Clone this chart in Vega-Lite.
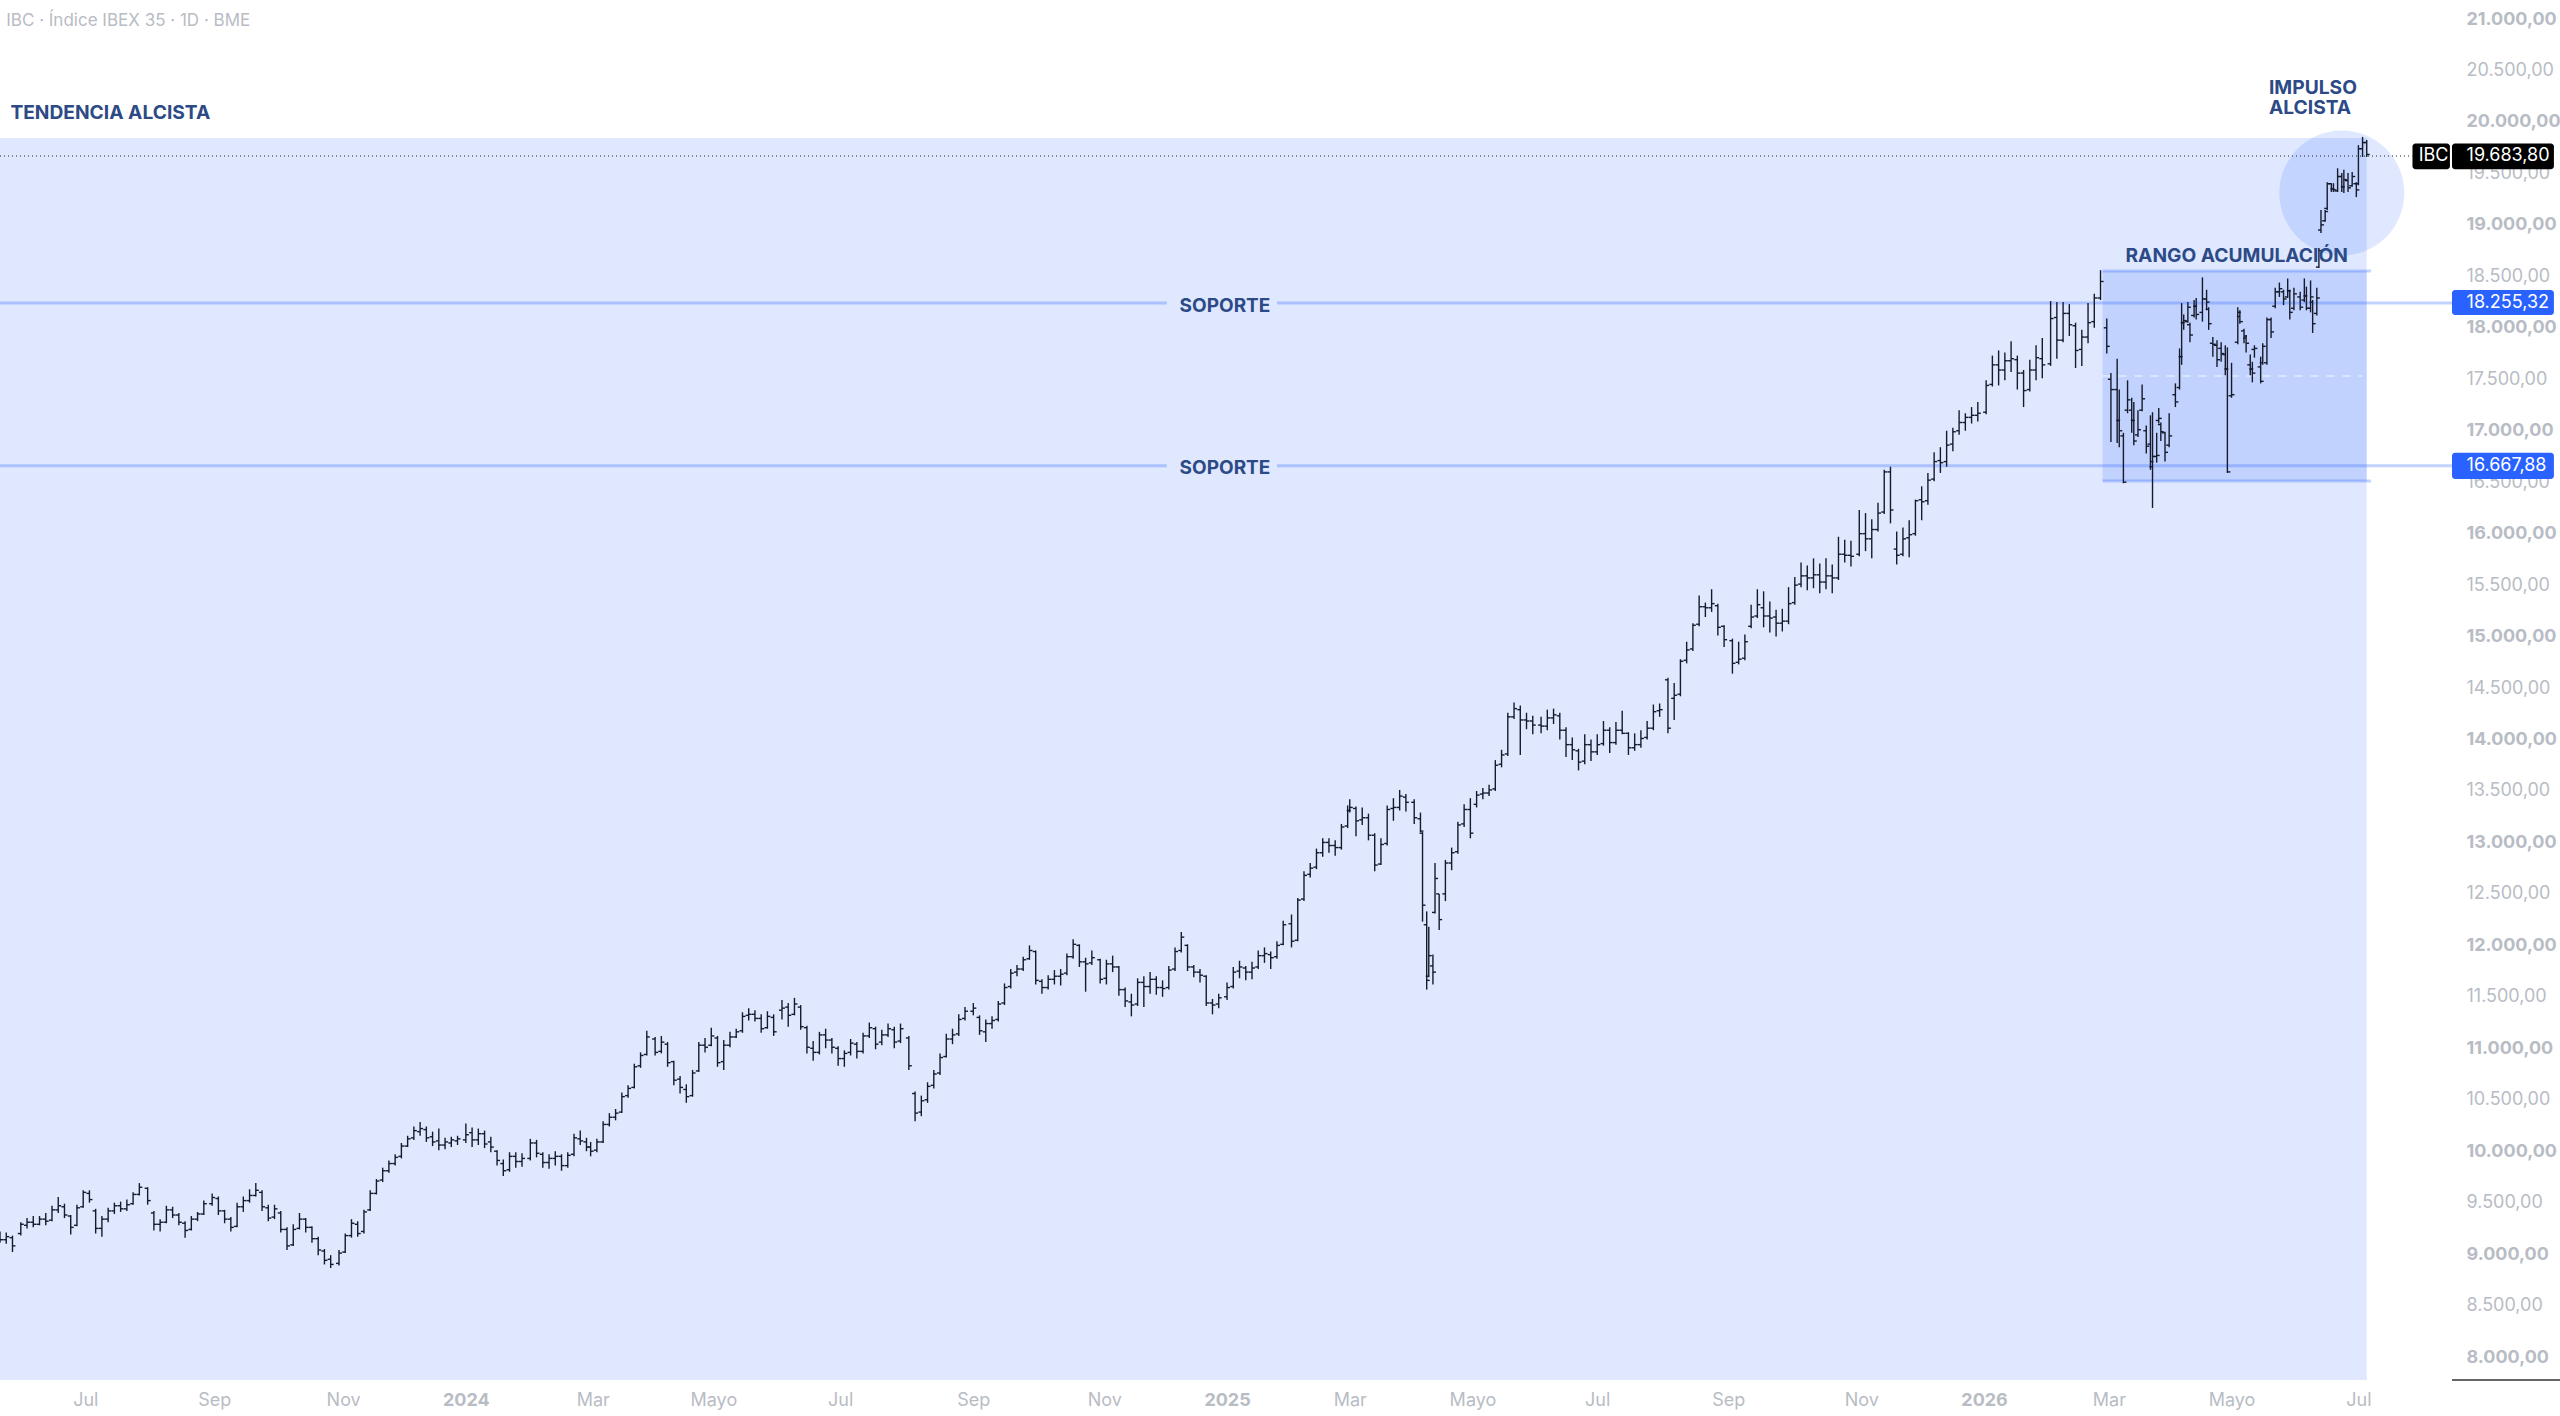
{
  "$schema": "https://vega.github.io/schema/vega-lite/v6.json",
  "width": 2452,
  "height": 1380,
  "autosize": {"type": "none"},
  "padding": {"left": 0, "top": 0, "right": 108, "bottom": 36},
  "background": "#ffffff",
  "config": {"view": {"stroke": null}, "font": "Inter"},
  "datasets": {
    "bars": [
      {"t":"2023-05-22","o":9180,"h":9220,"l":9110,"c":9140},
      {"t":"2023-05-25","o":9140,"h":9210,"l":9100,"c":9170},
      {"t":"2023-05-28","o":9160,"h":9180,"l":9020,"c":9080},
      {"t":"2023-06-01","o":9200,"h":9310,"l":9180,"c":9290},
      {"t":"2023-06-04","o":9280,"h":9350,"l":9250,"c":9310},
      {"t":"2023-06-07","o":9310,"h":9370,"l":9260,"c":9290},
      {"t":"2023-06-10","o":9290,"h":9370,"l":9280,"c":9340},
      {"t":"2023-06-13","o":9340,"h":9400,"l":9280,"c":9320},
      {"t":"2023-06-16","o":9330,"h":9470,"l":9320,"c":9430},
      {"t":"2023-06-19","o":9430,"h":9555,"l":9400,"c":9470},
      {"t":"2023-06-22","o":9460,"h":9490,"l":9350,"c":9380},
      {"t":"2023-06-25","o":9370,"h":9380,"l":9190,"c":9260},
      {"t":"2023-06-28","o":9280,"h":9480,"l":9270,"c":9450},
      {"t":"2023-07-01","o":9460,"h":9620,"l":9450,"c":9600},
      {"t":"2023-07-04","o":9590,"h":9620,"l":9500,"c":9530},
      {"t":"2023-07-07","o":9420,"h":9440,"l":9200,"c":9250},
      {"t":"2023-07-10","o":9250,"h":9370,"l":9170,"c":9340},
      {"t":"2023-07-13","o":9340,"h":9450,"l":9310,"c":9420},
      {"t":"2023-07-16","o":9420,"h":9500,"l":9390,"c":9470},
      {"t":"2023-07-19","o":9470,"h":9510,"l":9410,"c":9440},
      {"t":"2023-07-22","o":9440,"h":9530,"l":9420,"c":9480},
      {"t":"2023-07-25","o":9490,"h":9600,"l":9480,"c":9580},
      {"t":"2023-07-28","o":9580,"h":9690,"l":9570,"c":9650},
      {"t":"2023-08-01","o":9640,"h":9650,"l":9480,"c":9520},
      {"t":"2023-08-04","o":9400,"h":9420,"l":9230,"c":9290},
      {"t":"2023-08-07","o":9290,"h":9340,"l":9220,"c":9310},
      {"t":"2023-08-10","o":9310,"h":9470,"l":9300,"c":9430},
      {"t":"2023-08-13","o":9430,"h":9460,"l":9350,"c":9380},
      {"t":"2023-08-16","o":9380,"h":9400,"l":9280,"c":9310},
      {"t":"2023-08-19","o":9300,"h":9320,"l":9160,"c":9230},
      {"t":"2023-08-22","o":9240,"h":9370,"l":9230,"c":9340},
      {"t":"2023-08-25","o":9340,"h":9410,"l":9320,"c":9390},
      {"t":"2023-08-28","o":9390,"h":9520,"l":9380,"c":9490},
      {"t":"2023-09-01","o":9490,"h":9590,"l":9470,"c":9550},
      {"t":"2023-09-04","o":9540,"h":9560,"l":9380,"c":9420},
      {"t":"2023-09-07","o":9420,"h":9430,"l":9300,"c":9340},
      {"t":"2023-09-10","o":9340,"h":9360,"l":9220,"c":9260},
      {"t":"2023-09-13","o":9270,"h":9500,"l":9260,"c":9460},
      {"t":"2023-09-16","o":9460,"h":9560,"l":9410,"c":9520},
      {"t":"2023-09-19","o":9520,"h":9630,"l":9500,"c":9570},
      {"t":"2023-09-22","o":9570,"h":9690,"l":9560,"c":9620},
      {"t":"2023-09-25","o":9600,"h":9620,"l":9420,"c":9460},
      {"t":"2023-09-28","o":9450,"h":9480,"l":9320,"c":9350},
      {"t":"2023-10-01","o":9360,"h":9480,"l":9340,"c":9440},
      {"t":"2023-10-04","o":9400,"h":9420,"l":9210,"c":9240},
      {"t":"2023-10-07","o":9240,"h":9260,"l":9040,"c":9080},
      {"t":"2023-10-10","o":9090,"h":9290,"l":9080,"c":9240},
      {"t":"2023-10-13","o":9250,"h":9400,"l":9240,"c":9340},
      {"t":"2023-10-16","o":9340,"h":9350,"l":9210,"c":9260},
      {"t":"2023-10-19","o":9260,"h":9270,"l":9110,"c":9150},
      {"t":"2023-10-22","o":9150,"h":9170,"l":8990,"c":9040},
      {"t":"2023-10-25","o":9030,"h":9050,"l":8900,"c":8940},
      {"t":"2023-10-28","o":8950,"h":8990,"l":8865,"c":8900},
      {"t":"2023-11-01","o":8910,"h":9040,"l":8890,"c":9010},
      {"t":"2023-11-04","o":9020,"h":9200,"l":9010,"c":9180},
      {"t":"2023-11-07","o":9180,"h":9340,"l":9160,"c":9300},
      {"t":"2023-11-10","o":9290,"h":9320,"l":9170,"c":9200},
      {"t":"2023-11-13","o":9220,"h":9430,"l":9200,"c":9410},
      {"t":"2023-11-16","o":9430,"h":9620,"l":9420,"c":9590},
      {"t":"2023-11-19","o":9590,"h":9730,"l":9580,"c":9710},
      {"t":"2023-11-22","o":9720,"h":9840,"l":9700,"c":9810},
      {"t":"2023-11-25","o":9810,"h":9910,"l":9790,"c":9880},
      {"t":"2023-11-28","o":9880,"h":9970,"l":9860,"c":9940},
      {"t":"2023-12-01","o":9950,"h":10080,"l":9930,"c":10050},
      {"t":"2023-12-04","o":10050,"h":10150,"l":10040,"c":10120},
      {"t":"2023-12-07","o":10130,"h":10240,"l":10110,"c":10200},
      {"t":"2023-12-10","o":10190,"h":10283,"l":10150,"c":10220},
      {"t":"2023-12-13","o":10210,"h":10240,"l":10090,"c":10130},
      {"t":"2023-12-16","o":10140,"h":10190,"l":10050,"c":10090},
      {"t":"2023-12-19","o":10100,"h":10220,"l":10010,"c":10060},
      {"t":"2023-12-22","o":10060,"h":10130,"l":10020,"c":10090},
      {"t":"2023-12-25","o":10080,"h":10140,"l":10040,"c":10110},
      {"t":"2023-12-28","o":10100,"h":10150,"l":10060,"c":10120},
      {"t":"2024-01-01","o":10110,"h":10270,"l":10080,"c":10160},
      {"t":"2024-01-04","o":10180,"h":10230,"l":10040,"c":10110},
      {"t":"2024-01-07","o":10110,"h":10220,"l":10060,"c":10170},
      {"t":"2024-01-10","o":10170,"h":10200,"l":10030,"c":10070},
      {"t":"2024-01-13","o":10090,"h":10140,"l":9990,"c":10040},
      {"t":"2024-01-16","o":10000,"h":10010,"l":9860,"c":9910},
      {"t":"2024-01-19","o":9880,"h":9920,"l":9760,"c":9810},
      {"t":"2024-01-22","o":9820,"h":9990,"l":9800,"c":9950},
      {"t":"2024-01-25","o":9950,"h":9990,"l":9840,"c":9900},
      {"t":"2024-01-28","o":9900,"h":9980,"l":9850,"c":9930},
      {"t":"2024-02-01","o":9930,"h":10120,"l":9910,"c":10080},
      {"t":"2024-02-04","o":10080,"h":10110,"l":9940,"c":9980},
      {"t":"2024-02-07","o":9970,"h":9990,"l":9840,"c":9890},
      {"t":"2024-02-10","o":9890,"h":9970,"l":9830,"c":9930},
      {"t":"2024-02-13","o":9930,"h":10000,"l":9860,"c":9950},
      {"t":"2024-02-16","o":9950,"h":9970,"l":9810,"c":9860},
      {"t":"2024-02-19","o":9860,"h":9990,"l":9840,"c":9960},
      {"t":"2024-02-22","o":9970,"h":10170,"l":9950,"c":10130},
      {"t":"2024-02-25","o":10120,"h":10200,"l":10060,"c":10100},
      {"t":"2024-02-28","o":10090,"h":10130,"l":10000,"c":10040},
      {"t":"2024-03-01","o":10040,"h":10090,"l":9950,"c":10000},
      {"t":"2024-03-04","o":10010,"h":10120,"l":9990,"c":10090},
      {"t":"2024-03-07","o":10090,"h":10290,"l":10080,"c":10260},
      {"t":"2024-03-10","o":10260,"h":10370,"l":10240,"c":10330},
      {"t":"2024-03-13","o":10330,"h":10410,"l":10300,"c":10370},
      {"t":"2024-03-16","o":10380,"h":10570,"l":10370,"c":10530},
      {"t":"2024-03-19","o":10540,"h":10640,"l":10520,"c":10610},
      {"t":"2024-03-22","o":10620,"h":10850,"l":10610,"c":10820},
      {"t":"2024-03-25","o":10830,"h":10960,"l":10810,"c":10930},
      {"t":"2024-03-28","o":10940,"h":11170,"l":10930,"c":11110},
      {"t":"2024-04-01","o":11090,"h":11110,"l":10930,"c":10960},
      {"t":"2024-04-04","o":10970,"h":11120,"l":10950,"c":11060},
      {"t":"2024-04-07","o":11040,"h":11060,"l":10820,"c":10860},
      {"t":"2024-04-10","o":10870,"h":10880,"l":10640,"c":10690},
      {"t":"2024-04-13","o":10700,"h":10730,"l":10560,"c":10620},
      {"t":"2024-04-16","o":10600,"h":10650,"l":10470,"c":10530},
      {"t":"2024-04-19","o":10540,"h":10790,"l":10530,"c":10760},
      {"t":"2024-04-22","o":10780,"h":11060,"l":10770,"c":11030},
      {"t":"2024-04-25","o":11030,"h":11100,"l":10960,"c":11010},
      {"t":"2024-04-28","o":11030,"h":11200,"l":11020,"c":11120},
      {"t":"2024-05-01","o":11100,"h":11120,"l":10820,"c":10860},
      {"t":"2024-05-04","o":10870,"h":11080,"l":10790,"c":11030},
      {"t":"2024-05-07","o":11030,"h":11160,"l":11010,"c":11110},
      {"t":"2024-05-10","o":11110,"h":11190,"l":11100,"c":11160},
      {"t":"2024-05-13","o":11170,"h":11350,"l":11150,"c":11310},
      {"t":"2024-05-16","o":11320,"h":11390,"l":11270,"c":11330},
      {"t":"2024-05-19","o":11330,"h":11370,"l":11260,"c":11290},
      {"t":"2024-05-22","o":11290,"h":11330,"l":11150,"c":11190},
      {"t":"2024-05-25","o":11200,"h":11360,"l":11190,"c":11310},
      {"t":"2024-05-28","o":11300,"h":11330,"l":11120,"c":11160},
      {"t":"2024-06-01","o":11370,"h":11470,"l":11280,"c":11390},
      {"t":"2024-06-04","o":11400,"h":11440,"l":11210,"c":11320},
      {"t":"2024-06-07","o":11330,"h":11490,"l":11320,"c":11430},
      {"t":"2024-06-10","o":11400,"h":11420,"l":11180,"c":11210},
      {"t":"2024-06-13","o":11200,"h":11220,"l":10950,"c":11010},
      {"t":"2024-06-16","o":11000,"h":11070,"l":10880,"c":10960},
      {"t":"2024-06-19","o":10960,"h":11160,"l":10940,"c":11130},
      {"t":"2024-06-22","o":11130,"h":11190,"l":11000,"c":11080},
      {"t":"2024-06-25","o":11080,"h":11100,"l":10950,"c":11010},
      {"t":"2024-06-28","o":11000,"h":11020,"l":10830,"c":10900},
      {"t":"2024-07-01","o":10900,"h":10980,"l":10820,"c":10950},
      {"t":"2024-07-04","o":10960,"h":11090,"l":10930,"c":11050},
      {"t":"2024-07-07","o":11040,"h":11060,"l":10900,"c":10970},
      {"t":"2024-07-10","o":10970,"h":11150,"l":10950,"c":11120},
      {"t":"2024-07-13","o":11120,"h":11250,"l":11100,"c":11200},
      {"t":"2024-07-16","o":11190,"h":11210,"l":10990,"c":11040},
      {"t":"2024-07-19","o":11060,"h":11180,"l":11030,"c":11130},
      {"t":"2024-07-22","o":11130,"h":11240,"l":11110,"c":11190},
      {"t":"2024-07-25","o":11180,"h":11210,"l":11000,"c":11060},
      {"t":"2024-07-28","o":11070,"h":11240,"l":11050,"c":11190},
      {"t":"2024-08-01","o":11100,"h":11120,"l":10790,"c":10830},
      {"t":"2024-08-04","o":10560,"h":10580,"l":10290,"c":10370},
      {"t":"2024-08-07","o":10380,"h":10540,"l":10340,"c":10490},
      {"t":"2024-08-10","o":10500,"h":10670,"l":10470,"c":10630},
      {"t":"2024-08-13","o":10640,"h":10790,"l":10610,"c":10750},
      {"t":"2024-08-16","o":10760,"h":10950,"l":10740,"c":10910},
      {"t":"2024-08-19","o":10920,"h":11140,"l":10910,"c":11090},
      {"t":"2024-08-22","o":11090,"h":11190,"l":11040,"c":11130},
      {"t":"2024-08-25","o":11140,"h":11330,"l":11120,"c":11280},
      {"t":"2024-08-28","o":11290,"h":11400,"l":11270,"c":11360},
      {"t":"2024-09-01","o":11360,"h":11440,"l":11320,"c":11390},
      {"t":"2024-09-04","o":11300,"h":11320,"l":11130,"c":11170},
      {"t":"2024-09-07","o":11160,"h":11280,"l":11060,"c":11240},
      {"t":"2024-09-10","o":11240,"h":11310,"l":11190,"c":11270},
      {"t":"2024-09-13","o":11280,"h":11460,"l":11260,"c":11430},
      {"t":"2024-09-16","o":11440,"h":11630,"l":11420,"c":11590},
      {"t":"2024-09-19","o":11600,"h":11770,"l":11580,"c":11730},
      {"t":"2024-09-22","o":11740,"h":11810,"l":11700,"c":11770},
      {"t":"2024-09-25","o":11770,"h":11890,"l":11750,"c":11860},
      {"t":"2024-09-28","o":11870,"h":12000,"l":11860,"c":11950},
      {"t":"2024-10-01","o":11940,"h":11950,"l":11620,"c":11660},
      {"t":"2024-10-04","o":11650,"h":11670,"l":11530,"c":11590},
      {"t":"2024-10-07","o":11590,"h":11710,"l":11570,"c":11670},
      {"t":"2024-10-10","o":11670,"h":11760,"l":11620,"c":11700},
      {"t":"2024-10-13","o":11700,"h":11770,"l":11610,"c":11720},
      {"t":"2024-10-16","o":11730,"h":11920,"l":11710,"c":11890},
      {"t":"2024-10-19","o":11890,"h":12060,"l":11870,"c":12010},
      {"t":"2024-10-22","o":12000,"h":12010,"l":11790,"c":11840},
      {"t":"2024-10-25","o":11840,"h":11880,"l":11550,"c":11820},
      {"t":"2024-10-28","o":11830,"h":11950,"l":11810,"c":11880},
      {"t":"2024-11-01","o":11860,"h":11870,"l":11630,"c":11670},
      {"t":"2024-11-04","o":11680,"h":11860,"l":11620,"c":11820},
      {"t":"2024-11-07","o":11820,"h":11900,"l":11740,"c":11790},
      {"t":"2024-11-10","o":11790,"h":11800,"l":11510,"c":11570},
      {"t":"2024-11-13","o":11570,"h":11590,"l":11400,"c":11460},
      {"t":"2024-11-16","o":11450,"h":11530,"l":11310,"c":11420},
      {"t":"2024-11-19","o":11430,"h":11680,"l":11410,"c":11640},
      {"t":"2024-11-22","o":11640,"h":11700,"l":11400,"c":11600},
      {"t":"2024-11-25","o":11600,"h":11740,"l":11530,"c":11670},
      {"t":"2024-11-28","o":11670,"h":11700,"l":11520,"c":11590},
      {"t":"2024-12-01","o":11590,"h":11660,"l":11500,"c":11580},
      {"t":"2024-12-04","o":11590,"h":11800,"l":11570,"c":11760},
      {"t":"2024-12-07","o":11770,"h":11980,"l":11750,"c":11940},
      {"t":"2024-12-10","o":11950,"h":12130,"l":11930,"c":12080},
      {"t":"2024-12-13","o":12000,"h":12010,"l":11750,"c":11790},
      {"t":"2024-12-16","o":11790,"h":11810,"l":11690,"c":11740},
      {"t":"2024-12-19","o":11740,"h":11770,"l":11640,"c":11710},
      {"t":"2024-12-22","o":11700,"h":11710,"l":11410,"c":11440},
      {"t":"2024-12-25","o":11440,"h":11480,"l":11330,"c":11420},
      {"t":"2024-12-28","o":11430,"h":11530,"l":11390,"c":11490},
      {"t":"2025-01-01","o":11500,"h":11640,"l":11470,"c":11590},
      {"t":"2025-01-04","o":11600,"h":11790,"l":11580,"c":11740},
      {"t":"2025-01-07","o":11750,"h":11850,"l":11680,"c":11790},
      {"t":"2025-01-10","o":11780,"h":11800,"l":11660,"c":11740},
      {"t":"2025-01-13","o":11740,"h":11840,"l":11670,"c":11780},
      {"t":"2025-01-16","o":11790,"h":11950,"l":11770,"c":11900},
      {"t":"2025-01-19","o":11900,"h":11980,"l":11830,"c":11920},
      {"t":"2025-01-22","o":11910,"h":11940,"l":11770,"c":11880},
      {"t":"2025-01-25","o":11890,"h":12040,"l":11870,"c":12000},
      {"t":"2025-01-28","o":12010,"h":12240,"l":12000,"c":12200},
      {"t":"2025-02-01","o":12210,"h":12300,"l":11980,"c":12040},
      {"t":"2025-02-04","o":12050,"h":12460,"l":12040,"c":12440},
      {"t":"2025-02-07","o":12450,"h":12720,"l":12430,"c":12680},
      {"t":"2025-02-10","o":12690,"h":12800,"l":12660,"c":12750},
      {"t":"2025-02-13","o":12760,"h":12940,"l":12740,"c":12900},
      {"t":"2025-02-16","o":12900,"h":13040,"l":12860,"c":13000},
      {"t":"2025-02-19","o":13000,"h":13040,"l":12900,"c":12970},
      {"t":"2025-02-22","o":12970,"h":13020,"l":12870,"c":12950},
      {"t":"2025-02-25","o":12950,"h":13180,"l":12930,"c":13150},
      {"t":"2025-02-28","o":13160,"h":13360,"l":13140,"c":13310},
      {"t":"2025-03-01","o":13310,"h":13420,"l":13290,"c":13340},
      {"t":"2025-03-04","o":13330,"h":13350,"l":13060,"c":13210},
      {"t":"2025-03-07","o":13220,"h":13340,"l":13170,"c":13240},
      {"t":"2025-03-10","o":13240,"h":13280,"l":13020,"c":13070},
      {"t":"2025-03-13","o":13070,"h":13090,"l":12720,"c":12780},
      {"t":"2025-03-16","o":12790,"h":13040,"l":12780,"c":12980},
      {"t":"2025-03-19","o":12990,"h":13360,"l":12970,"c":13320},
      {"t":"2025-03-22","o":13330,"h":13430,"l":13210,"c":13340},
      {"t":"2025-03-25","o":13340,"h":13510,"l":13310,"c":13450},
      {"t":"2025-03-28","o":13440,"h":13470,"l":13300,"c":13390},
      {"t":"2025-04-01","o":13390,"h":13420,"l":13180,"c":13240},
      {"t":"2025-04-04","o":13230,"h":13290,"l":13100,"c":13110},
      {"t":"2025-04-05","o":13090,"h":13100,"l":12230,"c":12390},
      {"t":"2025-04-07","o":12200,"h":12330,"l":11570,"c":11660},
      {"t":"2025-04-08","o":11700,"h":12180,"l":11690,"c":11900},
      {"t":"2025-04-10","o":11800,"h":11910,"l":11620,"c":11740},
      {"t":"2025-04-11","o":12320,"h":12800,"l":12310,"c":12650},
      {"t":"2025-04-13","o":12500,"h":12500,"l":12150,"c":12250},
      {"t":"2025-04-16","o":12500,"h":12830,"l":12430,"c":12800},
      {"t":"2025-04-19","o":12800,"h":12950,"l":12730,"c":12900},
      {"t":"2025-04-22","o":12910,"h":13200,"l":12890,"c":13170},
      {"t":"2025-04-25","o":13180,"h":13370,"l":13150,"c":13320},
      {"t":"2025-04-28","o":13320,"h":13430,"l":13040,"c":13090},
      {"t":"2025-05-01","o":13370,"h":13500,"l":13340,"c":13460},
      {"t":"2025-05-04","o":13470,"h":13530,"l":13420,"c":13480},
      {"t":"2025-05-07","o":13480,"h":13560,"l":13450,"c":13510},
      {"t":"2025-05-10","o":13520,"h":13800,"l":13500,"c":13750},
      {"t":"2025-05-13","o":13760,"h":13900,"l":13730,"c":13850},
      {"t":"2025-05-16","o":13860,"h":14260,"l":13840,"c":14220},
      {"t":"2025-05-19","o":14220,"h":14360,"l":14200,"c":14300},
      {"t":"2025-05-22","o":14290,"h":14330,"l":13850,"c":14190},
      {"t":"2025-05-25","o":14190,"h":14260,"l":14100,"c":14180},
      {"t":"2025-05-28","o":14180,"h":14230,"l":14050,"c":14140},
      {"t":"2025-06-01","o":14140,"h":14220,"l":14060,"c":14130},
      {"t":"2025-06-04","o":14130,"h":14290,"l":14090,"c":14210},
      {"t":"2025-06-07","o":14210,"h":14300,"l":14150,"c":14240},
      {"t":"2025-06-10","o":14230,"h":14260,"l":14000,"c":14090},
      {"t":"2025-06-13","o":14090,"h":14120,"l":13830,"c":13950},
      {"t":"2025-06-16","o":13950,"h":14020,"l":13800,"c":13900},
      {"t":"2025-06-19","o":13890,"h":13910,"l":13700,"c":13780},
      {"t":"2025-06-22","o":13790,"h":14050,"l":13760,"c":13950},
      {"t":"2025-06-25","o":13950,"h":14000,"l":13790,"c":13880},
      {"t":"2025-06-28","o":13880,"h":14050,"l":13850,"c":13950},
      {"t":"2025-07-01","o":13960,"h":14180,"l":13940,"c":14090},
      {"t":"2025-07-04","o":14090,"h":14120,"l":13870,"c":13970},
      {"t":"2025-07-07","o":13970,"h":14170,"l":13950,"c":14090},
      {"t":"2025-07-10","o":14090,"h":14280,"l":14050,"c":14060},
      {"t":"2025-07-13","o":14060,"h":14070,"l":13850,"c":13920},
      {"t":"2025-07-16","o":13920,"h":14060,"l":13890,"c":13950},
      {"t":"2025-07-19","o":13950,"h":14090,"l":13920,"c":14010},
      {"t":"2025-07-22","o":14020,"h":14180,"l":14000,"c":14110},
      {"t":"2025-07-25","o":14110,"h":14340,"l":14090,"c":14270},
      {"t":"2025-07-28","o":14280,"h":14350,"l":14220,"c":14290},
      {"t":"2025-08-01","o":14580,"h":14600,"l":14060,"c":14110},
      {"t":"2025-08-04","o":14400,"h":14550,"l":14190,"c":14430},
      {"t":"2025-08-07","o":14440,"h":14780,"l":14420,"c":14760},
      {"t":"2025-08-10","o":14770,"h":14950,"l":14740,"c":14870},
      {"t":"2025-08-13","o":14880,"h":15130,"l":14860,"c":15110},
      {"t":"2025-08-16","o":15120,"h":15400,"l":15100,"c":15290},
      {"t":"2025-08-19","o":15290,"h":15330,"l":15190,"c":15280},
      {"t":"2025-08-22","o":15280,"h":15460,"l":15240,"c":15320},
      {"t":"2025-08-25","o":15300,"h":15320,"l":15010,"c":15090},
      {"t":"2025-08-28","o":15100,"h":15110,"l":14900,"c":14970},
      {"t":"2025-09-01","o":14960,"h":14980,"l":14640,"c":14740},
      {"t":"2025-09-04","o":14750,"h":14950,"l":14730,"c":14780},
      {"t":"2025-09-07","o":14790,"h":15020,"l":14770,"c":14950},
      {"t":"2025-09-10","o":15100,"h":15310,"l":15080,"c":15190},
      {"t":"2025-09-13","o":15200,"h":15460,"l":15180,"c":15310},
      {"t":"2025-09-16","o":15280,"h":15440,"l":15090,"c":15200},
      {"t":"2025-09-19","o":15200,"h":15340,"l":15040,"c":15180},
      {"t":"2025-09-22","o":15190,"h":15260,"l":15000,"c":15130},
      {"t":"2025-09-25","o":15130,"h":15270,"l":15050,"c":15150},
      {"t":"2025-09-28","o":15150,"h":15480,"l":15120,"c":15320},
      {"t":"2025-10-01","o":15330,"h":15580,"l":15310,"c":15500},
      {"t":"2025-10-04","o":15510,"h":15720,"l":15480,"c":15590},
      {"t":"2025-10-07","o":15590,"h":15690,"l":15450,"c":15570},
      {"t":"2025-10-10","o":15570,"h":15760,"l":15470,"c":15600},
      {"t":"2025-10-13","o":15600,"h":15710,"l":15420,"c":15530},
      {"t":"2025-10-16","o":15530,"h":15760,"l":15460,"c":15590},
      {"t":"2025-10-19","o":15590,"h":15700,"l":15420,"c":15570},
      {"t":"2025-10-22","o":15570,"h":15970,"l":15550,"c":15800},
      {"t":"2025-10-25","o":15800,"h":15940,"l":15720,"c":15790},
      {"t":"2025-10-28","o":15790,"h":15930,"l":15680,"c":15780},
      {"t":"2025-11-01","o":15800,"h":16230,"l":15780,"c":16000},
      {"t":"2025-11-04","o":16000,"h":16200,"l":15830,"c":15950},
      {"t":"2025-11-07","o":15950,"h":16140,"l":15760,"c":16040},
      {"t":"2025-11-10","o":16040,"h":16300,"l":16020,"c":16200},
      {"t":"2025-11-13","o":16210,"h":16620,"l":16190,"c":16600},
      {"t":"2025-11-16","o":16600,"h":16650,"l":16100,"c":16230},
      {"t":"2025-11-19","o":15850,"h":16020,"l":15700,"c":15790},
      {"t":"2025-11-22","o":15800,"h":16060,"l":15780,"c":15950},
      {"t":"2025-11-25","o":15960,"h":16130,"l":15770,"c":15990},
      {"t":"2025-11-28","o":16000,"h":16330,"l":15980,"c":16320},
      {"t":"2025-12-01","o":16330,"h":16460,"l":16130,"c":16310},
      {"t":"2025-12-04","o":16320,"h":16590,"l":16280,"c":16520},
      {"t":"2025-12-07","o":16530,"h":16790,"l":16510,"c":16700},
      {"t":"2025-12-10","o":16710,"h":16840,"l":16590,"c":16690},
      {"t":"2025-12-13","o":16700,"h":17000,"l":16650,"c":16860},
      {"t":"2025-12-16","o":16870,"h":17030,"l":16800,"c":16990},
      {"t":"2025-12-19","o":17000,"h":17200,"l":16960,"c":17080},
      {"t":"2025-12-22","o":17080,"h":17170,"l":17000,"c":17130},
      {"t":"2025-12-25","o":17130,"h":17230,"l":17070,"c":17150},
      {"t":"2025-12-28","o":17150,"h":17280,"l":17090,"c":17170},
      {"t":"2026-01-01","o":17180,"h":17490,"l":17160,"c":17440},
      {"t":"2026-01-04","o":17450,"h":17730,"l":17430,"c":17640},
      {"t":"2026-01-07","o":17640,"h":17780,"l":17440,"c":17590},
      {"t":"2026-01-10","o":17590,"h":17760,"l":17490,"c":17680},
      {"t":"2026-01-13","o":17680,"h":17870,"l":17570,"c":17700},
      {"t":"2026-01-16","o":17690,"h":17730,"l":17400,"c":17560},
      {"t":"2026-01-19","o":17560,"h":17590,"l":17230,"c":17390},
      {"t":"2026-01-22","o":17400,"h":17690,"l":17380,"c":17590},
      {"t":"2026-01-25","o":17590,"h":17830,"l":17490,"c":17710},
      {"t":"2026-01-28","o":17700,"h":17900,"l":17510,"c":17640},
      {"t":"2026-02-01","o":17650,"h":18260,"l":17630,"c":18090},
      {"t":"2026-02-04","o":18100,"h":18250,"l":17700,"c":17880},
      {"t":"2026-02-07","o":17880,"h":18250,"l":17860,"c":18140},
      {"t":"2026-02-10","o":18140,"h":18230,"l":17920,"c":18030},
      {"t":"2026-02-13","o":18020,"h":18050,"l":17610,"c":17780},
      {"t":"2026-02-16","o":17790,"h":17980,"l":17630,"c":17910},
      {"t":"2026-02-19","o":17910,"h":18240,"l":17850,"c":18050},
      {"t":"2026-02-22","o":18060,"h":18330,"l":18000,"c":18290},
      {"t":"2026-02-25","o":18290,"h":18560,"l":18270,"c":18450},
      {"t":"2026-02-28","o":18000,"h":18090,"l":17750,"c":17820},
      {"t":"2026-03-02","o":17500,"h":17560,"l":16890,"c":17400},
      {"t":"2026-03-05","o":17400,"h":17700,"l":16880,"c":17100},
      {"t":"2026-03-06","o":17100,"h":17400,"l":16840,"c":17000},
      {"t":"2026-03-08","o":16950,"h":16980,"l":16490,"c":16500},
      {"t":"2026-03-10","o":17200,"h":17490,"l":17170,"c":17300},
      {"t":"2026-03-12","o":17200,"h":17320,"l":16980,"c":17100},
      {"t":"2026-03-13","o":17100,"h":17280,"l":16860,"c":16900},
      {"t":"2026-03-15","o":16960,"h":17200,"l":16940,"c":17010},
      {"t":"2026-03-17","o":17200,"h":17450,"l":17190,"c":17310},
      {"t":"2026-03-19","o":17000,"h":17050,"l":16780,"c":16850},
      {"t":"2026-03-21","o":16870,"h":17150,"l":16620,"c":16700},
      {"t":"2026-03-22","o":16650,"h":17180,"l":16250,"c":16750},
      {"t":"2026-03-24","o":16750,"h":16980,"l":16690,"c":16760},
      {"t":"2026-03-25","o":17100,"h":17220,"l":17070,"c":17120},
      {"t":"2026-03-26","o":17060,"h":17080,"l":16900,"c":16990},
      {"t":"2026-03-28","o":16980,"h":16990,"l":16700,"c":16790},
      {"t":"2026-03-30","o":16860,"h":17170,"l":16840,"c":16950},
      {"t":"2026-04-02","o":17350,"h":17460,"l":17230,"c":17280},
      {"t":"2026-04-04","o":17420,"h":17800,"l":17400,"c":17720},
      {"t":"2026-04-05","o":17720,"h":18240,"l":17640,"c":18050},
      {"t":"2026-04-06","o":18050,"h":18130,"l":17980,"c":18070},
      {"t":"2026-04-08","o":18060,"h":18250,"l":18050,"c":18200},
      {"t":"2026-04-09","o":18030,"h":18050,"l":17860,"c":17930},
      {"t":"2026-04-11","o":18120,"h":18270,"l":18100,"c":18210},
      {"t":"2026-04-12","o":18210,"h":18290,"l":18080,"c":18130},
      {"t":"2026-04-15","o":18150,"h":18490,"l":18060,"c":18280},
      {"t":"2026-04-17","o":18280,"h":18370,"l":18170,"c":18250},
      {"t":"2026-04-18","o":18180,"h":18200,"l":17980,"c":18040},
      {"t":"2026-04-20","o":17850,"h":17910,"l":17720,"c":17840},
      {"t":"2026-04-22","o":17830,"h":17880,"l":17620,"c":17690},
      {"t":"2026-04-24","o":17800,"h":17860,"l":17670,"c":17750},
      {"t":"2026-04-26","o":17740,"h":17830,"l":17540,"c":17600},
      {"t":"2026-04-27","o":17600,"h":17810,"l":16590,"c":16600},
      {"t":"2026-04-29","o":17340,"h":17660,"l":17320,"c":17350},
      {"t":"2026-05-02","o":17860,"h":18200,"l":17840,"c":18150},
      {"t":"2026-05-03","o":18110,"h":18170,"l":18040,"c":18060},
      {"t":"2026-05-05","o":17970,"h":17990,"l":17850,"c":17920},
      {"t":"2026-05-06","o":17900,"h":17930,"l":17760,"c":17850},
      {"t":"2026-05-08","o":17640,"h":17740,"l":17540,"c":17600},
      {"t":"2026-05-09","o":17600,"h":17670,"l":17470,"c":17560},
      {"t":"2026-05-10","o":17790,"h":17830,"l":17710,"c":17800},
      {"t":"2026-05-13","o":17620,"h":17720,"l":17460,"c":17480},
      {"t":"2026-05-14","o":17660,"h":17850,"l":17640,"c":17820},
      {"t":"2026-05-16","o":17660,"h":18100,"l":17640,"c":18080},
      {"t":"2026-05-18","o":18080,"h":18100,"l":17900,"c":17960},
      {"t":"2026-05-20","o":18210,"h":18390,"l":18190,"c":18350},
      {"t":"2026-05-22","o":18350,"h":18440,"l":18300,"c":18380},
      {"t":"2026-05-24","o":18350,"h":18370,"l":18220,"c":18280},
      {"t":"2026-05-26","o":18300,"h":18480,"l":18290,"c":18360},
      {"t":"2026-05-27","o":18360,"h":18370,"l":18080,"c":18150},
      {"t":"2026-05-29","o":18190,"h":18390,"l":18170,"c":18330},
      {"t":"2026-06-01","o":18300,"h":18350,"l":18170,"c":18200},
      {"t":"2026-06-03","o":18270,"h":18480,"l":18250,"c":18310},
      {"t":"2026-06-04","o":18310,"h":18400,"l":18170,"c":18190},
      {"t":"2026-06-06","o":18190,"h":18460,"l":18150,"c":18300},
      {"t":"2026-06-07","o":18250,"h":18270,"l":17950,"c":18040},
      {"t":"2026-06-09","o":18140,"h":18390,"l":18120,"c":18290},
      {"t":"2026-06-10","o":18590,"h":18775,"l":18580,"c":18750},
      {"t":"2026-06-11","o":18950,"h":19145,"l":18920,"c":19000},
      {"t":"2026-06-13","o":19040,"h":19145,"l":19030,"c":19130},
      {"t":"2026-06-14","o":19160,"h":19415,"l":19145,"c":19400},
      {"t":"2026-06-16","o":19400,"h":19405,"l":19320,"c":19350},
      {"t":"2026-06-17","o":19350,"h":19405,"l":19320,"c":19340},
      {"t":"2026-06-19","o":19330,"h":19550,"l":19320,"c":19470},
      {"t":"2026-06-21","o":19470,"h":19505,"l":19320,"c":19370},
      {"t":"2026-06-22","o":19370,"h":19535,"l":19310,"c":19440},
      {"t":"2026-06-24","o":19430,"h":19505,"l":19320,"c":19360},
      {"t":"2026-06-26","o":19380,"h":19515,"l":19370,"c":19470},
      {"t":"2026-06-28","o":19400,"h":19415,"l":19270,"c":19340},
      {"t":"2026-06-29","o":19400,"h":19775,"l":19385,"c":19740},
      {"t":"2026-07-01","o":19740,"h":19855,"l":19660,"c":19800},
      {"t":"2026-07-03","o":19800,"h":19825,"l":19660,"c":19684}
    ]
  },
  "layer": [
    {
      "data": {"values": [{"t": "2023-05-22", "t2": "2026-07-03", "v": 19844, "v2": 7777}]},
      "mark": {"type": "rect", "color": "#2962ff", "opacity": 0.15},
      "encoding": {
        "x": {
          "field": "t", "type": "temporal", "title": null,
          "scale": {"domain": ["2023-05-22", "2026-08-13"]},
          "axis": {
            "orient": "bottom", "domain": false, "ticks": false, "grid": false,
            "labelColor": "#b8bcc4", "labelFont": "Inter", "labelFontSize": 18, "labelPadding": 11,
            "labelOverlap": false, "labelBound": false, "labelFlush": false,
            "values": [
              {"year": 2023, "month": 7, "date": 2}, {"year": 2023, "month": 9, "date": 2}, {"year": 2023, "month": 11, "date": 3},
              {"year": 2024, "month": 1, "date": 1}, {"year": 2024, "month": 3, "date": 2}, {"year": 2024, "month": 4, "date": 29},
              {"year": 2024, "month": 6, "date": 29}, {"year": 2024, "month": 9, "date": 1}, {"year": 2024, "month": 11, "date": 3},
              {"year": 2025, "month": 1, "date": 1}, {"year": 2025, "month": 3, "date": 1}, {"year": 2025, "month": 4, "date": 29},
              {"year": 2025, "month": 6, "date": 28}, {"year": 2025, "month": 8, "date": 30}, {"year": 2025, "month": 11, "date": 2},
              {"year": 2025, "month": 12, "date": 31}, {"year": 2026, "month": 3, "date": 1}, {"year": 2026, "month": 4, "date": 29},
              {"year": 2026, "month": 6, "date": 29}
            ],
            "labelExpr": "month(time(datum.value)+518400000)==0 ? ''+year(time(datum.value)+518400000) : ['','','Mar','','Mayo','','Jul','','Sep','','Nov',''][month(time(datum.value)+518400000)]",
            "labelFontWeight": {"condition": {"test": "month(time(datum.value)+518400000)==0", "value": "bold"}, "value": "normal"}
          }
        },
        "x2": {"field": "t2"},
        "y": {
          "field": "v", "type": "quantitative", "title": null,
          "scale": {"domain": [7777, 21185], "nice": false, "zero": false},
          "axis": {
            "orient": "right", "domain": false, "ticks": false, "grid": false,
            "labelColor": "#b8bcc4", "labelFont": "Inter", "labelFontSize": 18, "labelPadding": 14, "labelAlign": "left",
            "labelOverlap": false, "labelBound": false, "labelFlush": false,
            "values": [8000, 8500, 9000, 9500, 10000, 10500, 11000, 11500, 12000, 12500, 13000, 13500, 14000, 14500, 15000, 15500, 16000, 16500, 17000, 17500, 18000, 18500, 19000, 19500, 20000, 20500, 21000],
            "labelExpr": "replace(format(datum.value, ',.0f'), ',', '.') + ',00'",
            "labelFontWeight": {"condition": {"test": "datum.value % 1000 == 0", "value": "bold"}, "value": "normal"}
          }
        },
        "y2": {"field": "v2"}
      }
    },
    {
      "data": {"values": [{"t": "2026-02-26", "t2": "2026-07-03", "v": 18552, "v2": 16512}]},
      "mark": {"type": "rect", "color": "#2962ff", "opacity": 0.16},
      "encoding": {
        "x": {"field": "t", "type": "temporal", "title": null, "scale": {"domain": ["2023-05-22", "2026-08-13"]}},
        "x2": {"field": "t2"},
        "y": {"field": "v", "type": "quantitative", "title": null, "scale": {"domain": [7777, 21185], "nice": false, "zero": false}},
        "y2": {"field": "v2"}
      }
    },
    {
      "data": {"values": [{"t": "2026-06-21", "v": 19310}]},
      "mark": {"type": "point", "filled": true, "shape": "circle", "color": "#2962ff", "opacity": 0.15, "size": 15625},
      "encoding": {
        "x": {"field": "t", "type": "temporal", "title": null, "scale": {"domain": ["2023-05-22", "2026-08-13"]}},
        "y": {"field": "v", "type": "quantitative", "title": null, "scale": {"domain": [7777, 21185], "nice": false, "zero": false}}
      }
    },
    {
      "data": {"values": [
        {"t": "2023-05-22", "t2": "2024-12-03", "v": 18240},
        {"t": "2025-01-25", "t2": "2026-08-13", "v": 18240},
        {"t": "2023-05-22", "t2": "2024-12-03", "v": 16660},
        {"t": "2025-01-25", "t2": "2026-08-13", "v": 16660}
      ]},
      "mark": {"type": "rule", "color": "#2962ff", "opacity": 0.28, "strokeWidth": 3},
      "encoding": {
        "x": {"field": "t", "type": "temporal", "title": null, "scale": {"domain": ["2023-05-22", "2026-08-13"]}},
        "x2": {"field": "t2"},
        "y": {"field": "v", "type": "quantitative", "title": null, "scale": {"domain": [7777, 21185], "nice": false, "zero": false}}
      }
    },
    {
      "data": {"values": [
        {"t": "2026-02-26", "t2": "2026-07-05", "v": 18552},
        {"t": "2026-02-26", "t2": "2026-07-05", "v": 16512}
      ]},
      "mark": {"type": "rule", "color": "#2962ff", "opacity": 0.28, "strokeWidth": 3},
      "encoding": {
        "x": {"field": "t", "type": "temporal", "title": null, "scale": {"domain": ["2023-05-22", "2026-08-13"]}},
        "x2": {"field": "t2"},
        "y": {"field": "v", "type": "quantitative", "title": null, "scale": {"domain": [7777, 21185], "nice": false, "zero": false}}
      }
    },
    {
      "data": {"values": [{"t": "2026-02-26", "t2": "2026-07-01", "v": 17532}]},
      "mark": {"type": "rule", "color": "#ffffff", "opacity": 0.55, "strokeWidth": 1.5, "strokeDash": [8, 8]},
      "encoding": {
        "x": {"field": "t", "type": "temporal", "title": null, "scale": {"domain": ["2023-05-22", "2026-08-13"]}},
        "x2": {"field": "t2"},
        "y": {"field": "v", "type": "quantitative", "title": null, "scale": {"domain": [7777, 21185], "nice": false, "zero": false}}
      }
    },
    {
      "data": {"values": [{"t": "2023-05-22", "t2": "2026-07-25", "v": 19669}]},
      "mark": {"type": "rule", "color": "#1c2030", "strokeWidth": 1, "strokeDash": [1, 3]},
      "encoding": {
        "x": {"field": "t", "type": "temporal", "title": null, "scale": {"domain": ["2023-05-22", "2026-08-13"]}},
        "x2": {"field": "t2"},
        "y": {"field": "v", "type": "quantitative", "title": null, "scale": {"domain": [7777, 21185], "nice": false, "zero": false}}
      }
    },
    {
      "data": {"name": "bars"},
      "mark": {"type": "rule", "color": "#161b2b", "strokeWidth": 1.4},
      "encoding": {
        "x": {"field": "t", "type": "temporal", "title": null, "scale": {"domain": ["2023-05-22", "2026-08-13"]}},
        "y": {"field": "l", "type": "quantitative", "title": null, "scale": {"domain": [7777, 21185], "nice": false, "zero": false}},
        "y2": {"field": "h"}
      }
    },
    {
      "data": {"name": "bars"},
      "mark": {"type": "point", "filled": false, "shape": "M-1,0L0,0", "size": 36, "color": "#161b2b", "strokeWidth": 1.4, "opacity": 1},
      "encoding": {
        "x": {"field": "t", "type": "temporal", "title": null, "scale": {"domain": ["2023-05-22", "2026-08-13"]}},
        "y": {"field": "o", "type": "quantitative", "title": null, "scale": {"domain": [7777, 21185], "nice": false, "zero": false}}
      }
    },
    {
      "data": {"name": "bars"},
      "mark": {"type": "point", "filled": false, "shape": "M0,0L1,0", "size": 36, "color": "#161b2b", "strokeWidth": 1.4, "opacity": 1},
      "encoding": {
        "x": {"field": "t", "type": "temporal", "title": null, "scale": {"domain": ["2023-05-22", "2026-08-13"]}},
        "y": {"field": "c", "type": "quantitative", "title": null, "scale": {"domain": [7777, 21185], "nice": false, "zero": false}}
      }
    },
    {
      "data": {"values": [{"t": "2026-08-13", "t2": "2026-10-04", "v": 7777}]},
      "mark": {"type": "rule", "color": "#333333", "strokeWidth": 1.5},
      "encoding": {
        "x": {"field": "t", "type": "temporal", "title": null, "scale": {"domain": ["2023-05-22", "2026-08-13"]}},
        "x2": {"field": "t2"},
        "y": {"field": "v", "type": "quantitative", "title": null, "scale": {"domain": [7777, 21185], "nice": false, "zero": false}}
      }
    },
    {
      "data": {"values": [
        {"t": "2026-07-25", "t2": "2026-08-12", "v": 19790, "v2": 19540, "fill": "#000000"},
        {"t": "2026-08-13", "t2": "2026-10-01", "v": 19790, "v2": 19540, "fill": "#000000"},
        {"t": "2026-08-13", "t2": "2026-10-01", "v": 18367, "v2": 18124, "fill": "#2962ff"},
        {"t": "2026-08-13", "t2": "2026-10-01", "v": 16785, "v2": 16532, "fill": "#2962ff"}
      ]},
      "mark": {"type": "rect", "cornerRadius": 3},
      "encoding": {
        "x": {"field": "t", "type": "temporal", "title": null, "scale": {"domain": ["2023-05-22", "2026-08-13"]}},
        "x2": {"field": "t2"},
        "y": {"field": "v", "type": "quantitative", "title": null, "scale": {"domain": [7777, 21185], "nice": false, "zero": false}},
        "y2": {"field": "v2"},
        "color": {"field": "fill", "type": "nominal", "scale": null, "legend": null}
      }
    },
    {
      "data": {"values": [
        {"t": "2026-07-28", "v": 19665, "label": "IBC"},
        {"t": "2026-08-20", "v": 19670, "label": "19.683,80"},
        {"t": "2026-08-20", "v": 18245, "label": "18.255,32"},
        {"t": "2026-08-20", "v": 16660, "label": "16.667,88"}
      ]},
      "mark": {"type": "text", "font": "Inter", "fontSize": 18, "color": "#ffffff", "align": "left", "baseline": "middle"},
      "encoding": {
        "x": {"field": "t", "type": "temporal", "title": null, "scale": {"domain": ["2023-05-22", "2026-08-13"]}},
        "y": {"field": "v", "type": "quantitative", "title": null, "scale": {"domain": [7777, 21185], "nice": false, "zero": false}},
        "text": {"field": "label"}
      }
    },
    {
      "data": {"values": [{"t": "2023-05-25", "v": 20985, "label": "IBC · Índice IBEX 35 · 1D · BME"}]},
      "mark": {"type": "text", "font": "Inter", "fontSize": 17, "color": "#b8bcc4", "align": "left", "baseline": "middle"},
      "encoding": {
        "x": {"field": "t", "type": "temporal", "title": null, "scale": {"domain": ["2023-05-22", "2026-08-13"]}},
        "y": {"field": "v", "type": "quantitative", "title": null, "scale": {"domain": [7777, 21185], "nice": false, "zero": false}},
        "text": {"field": "label"}
      }
    },
    {
      "data": {"values": [
        {"t": "2023-05-27", "v": 20085, "label": "TENDENCIA ALCISTA"},
        {"t": "2026-05-17", "v": 20330, "label": "IMPULSO"},
        {"t": "2026-05-17", "v": 20135, "label": "ALCISTA"},
        {"t": "2026-03-09", "v": 18697, "label": "RANGO ACUMULACIÓN"}
      ]},
      "mark": {"type": "text", "font": "Inter", "fontSize": 19.2, "fontWeight": "bold", "color": "#2c4a86", "align": "left", "baseline": "middle"},
      "encoding": {
        "x": {"field": "t", "type": "temporal", "title": null, "scale": {"domain": ["2023-05-22", "2026-08-13"]}},
        "y": {"field": "v", "type": "quantitative", "title": null, "scale": {"domain": [7777, 21185], "nice": false, "zero": false}},
        "text": {"field": "label"}
      }
    },
    {
      "data": {"values": [
        {"t": "2024-12-31", "v": 18212, "label": "SOPORTE"},
        {"t": "2024-12-31", "v": 16640, "label": "SOPORTE"}
      ]},
      "mark": {"type": "text", "font": "Inter", "fontSize": 19, "fontWeight": "bold", "color": "#2c4a86", "align": "center", "baseline": "middle"},
      "encoding": {
        "x": {"field": "t", "type": "temporal", "title": null, "scale": {"domain": ["2023-05-22", "2026-08-13"]}},
        "y": {"field": "v", "type": "quantitative", "title": null, "scale": {"domain": [7777, 21185], "nice": false, "zero": false}},
        "text": {"field": "label"}
      }
    }
  ]
}
